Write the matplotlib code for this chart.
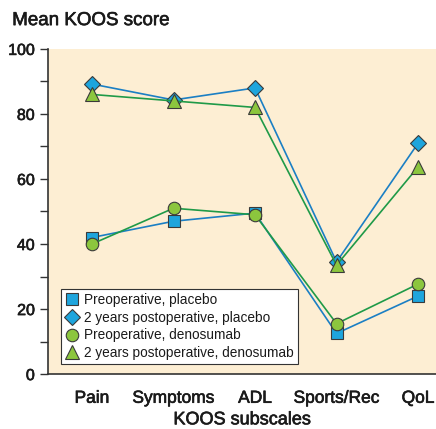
import matplotlib
matplotlib.use("Agg")
import matplotlib.pyplot as plt
from matplotlib.ticker import MultipleLocator
import matplotlib.patheffects as pe

plt.rcParams['font.family'] = ['Liberation Sans', 'DejaVu Sans']

categories = ["Pain", "Symptoms", "ADL", "Sports/Rec", "QoL"]
pre_placebo = [42, 47, 49.5, 12.5, 24]
post_placebo = [89.2, 84.3, 88, 34.5, 71]
pre_denosumab = [40, 51, 49, 15.5, 27.7]
post_denosumab = [86, 84, 82, 33.5, 63.7]
labels = ["Preoperative, placebo", "2 years postoperative, placebo",
          "Preoperative, denosumab", "2 years postoperative, denosumab"]

blue_fill = "#1ea5dd"
green_fill = "#8cc63e"
blue_line = "#1b7fc4"
green_line = "#1f9a48"
edge = "#3a3a3a"
txt = "#1a1a1a"
bold = [pe.withStroke(linewidth=0.45, foreground=txt)]

fig = plt.figure(figsize=(4.36, 4.29), dpi=100)
ax = fig.add_axes([0.110, 0.128, 0.890, 0.758])
ax.set_facecolor("#fdeed3")

x = list(range(1, len(categories) + 1))
series = [
    (pre_placebo, "s", blue_fill, blue_line, 8),
    (post_placebo, "D", blue_fill, blue_line, 8),
    (pre_denosumab, "o", green_fill, green_line, 9),
    (post_denosumab, "^", green_fill, green_line, 10),
]
for (vals, m, fc, lc, ms), lab in zip(series, labels):
    ax.plot(x, vals, color=lc, lw=1.2, marker=m, ms=ms, mfc=fc, mec=edge,
            mew=0.8, label=lab)

ax.set_xlim(0.46, 5.22)
ax.set_ylim(0, 100)
ax.set_xticks(x)
ax.set_xticklabels(categories, fontsize=12.5, color=txt)
ax.set_yticks(range(0, 101, 20))
ax.yaxis.set_minor_locator(MultipleLocator(10))
ax.tick_params(axis='y', which='both', direction='out', length=6, width=1,
               labelsize=11.5, color="#333333", labelcolor=txt)
ax.tick_params(axis='x', length=0, pad=12)
for lbl in ax.get_xticklabels() + ax.get_yticklabels():
    lbl.set_path_effects(bold)
for s in ["top", "right"]:
    ax.spines[s].set_visible(False)
for s in ["left", "bottom"]:
    ax.spines[s].set_color("#333333")
    ax.spines[s].set_linewidth(1.2)

xl = ax.set_xlabel("KOOS subscales", fontsize=13, labelpad=4, color=txt)
xl.set_path_effects(bold)
t = fig.text(0.028, 0.952, "Mean KOOS score", fontsize=13.5, ha="left",
             va="center", color=txt)
t.set_path_effects(bold)

leg = ax.legend(loc="lower left", bbox_to_anchor=(0.033, 0.03), fontsize=9.8,
                frameon=True, fancybox=False, framealpha=1, edgecolor="#333333",
                handlelength=1.0, handletextpad=0.4, borderpad=0.3,
                labelspacing=0.28, borderaxespad=0)
leg.get_frame().set_linewidth(0.8)
for h in leg.legend_handles:
    h.set_linestyle("none")
for tx in leg.get_texts():
    tx.set_color(txt)

fig.savefig("out.png", dpi=100)
